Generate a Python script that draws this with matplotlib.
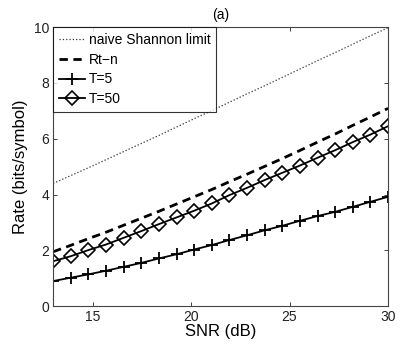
import numpy as np
import matplotlib
matplotlib.use("Agg")
import matplotlib.pyplot as plt

plt.rcParams['font.family'] = ['Liberation Sans', 'DejaVu Sans']

snr_db = np.linspace(13, 30, 20)
shannon = [4.40, 4.68, 4.96, 5.25, 5.54, 5.83, 6.12, 6.42, 6.72, 7.01,
           7.31, 7.61, 7.90, 8.20, 8.50, 8.80, 9.09, 9.39, 9.69, 9.98]
rt_n = [1.95, 2.18, 2.42, 2.65, 2.90, 3.15, 3.40, 3.66, 3.92, 4.18,
        4.46, 4.73, 5.01, 5.29, 5.58, 5.88, 6.17, 6.48, 6.78, 7.09]
t5 = [0.90, 1.02, 1.14, 1.27, 1.41, 1.55, 1.71, 1.86, 2.03, 2.19,
      2.37, 2.54, 2.72, 2.88, 3.06, 3.23, 3.38, 3.56, 3.74, 3.92]
t50 = [1.61, 1.79, 2.01, 2.21, 2.45, 2.69, 2.94, 3.18, 3.42, 3.68,
       3.98, 4.24, 4.52, 4.78, 5.04, 5.32, 5.59, 5.88, 6.15, 6.45]

xticks = [15, 20, 25, 30]
yticks = [0, 2, 4, 6, 8, 10]

fig = plt.figure(figsize=(4.15, 3.44), dpi=100)
ax = fig.add_axes([0.128, 0.110, 0.807, 0.811])

ax.plot(snr_db, shannon, color='#333333', linestyle=':', linewidth=0.9, label='naive Shannon limit')
ax.plot(snr_db, rt_n, color='black', linestyle='--', linewidth=2.0, dashes=(3, 2), label='Rt\u2212n')
ax.plot(snr_db, t5, color='black', linestyle='-', linewidth=1.3, marker='+', markersize=9,
        markeredgewidth=1.3, label='T=5')
ax.plot(snr_db, t50, color='black', linestyle='-', linewidth=1.3, marker='D', markersize=7,
        markerfacecolor='none', markeredgewidth=1.2, label='T=50')

ax.set_xlim(13, 30)
ax.set_ylim(0, 10)
ax.set_xticks(xticks)
ax.set_yticks(yticks)
ax.tick_params(direction='in', top=True, right=True, labelsize=10, length=3, width=0.6, colors='#222222', pad=3)
for s in ax.spines.values():
    s.set_linewidth(0.8)
    s.set_color('#444444')

ax.set_xlabel('SNR (dB)', fontsize=12, labelpad=0)
ax.set_ylabel('Rate (bits/symbol)', fontsize=12, labelpad=4)
ax.set_title('(a)', fontsize=10, pad=6)

leg = ax.legend(loc='upper left', fontsize=10, frameon=True, fancybox=False,
                borderaxespad=0.0, handlelength=1.9, handletextpad=0.25,
                borderpad=0.4, labelspacing=0.42)
leg.get_frame().set_edgecolor('black')
leg.get_frame().set_linewidth(0.8)

fig.savefig('out.png', dpi=100)
